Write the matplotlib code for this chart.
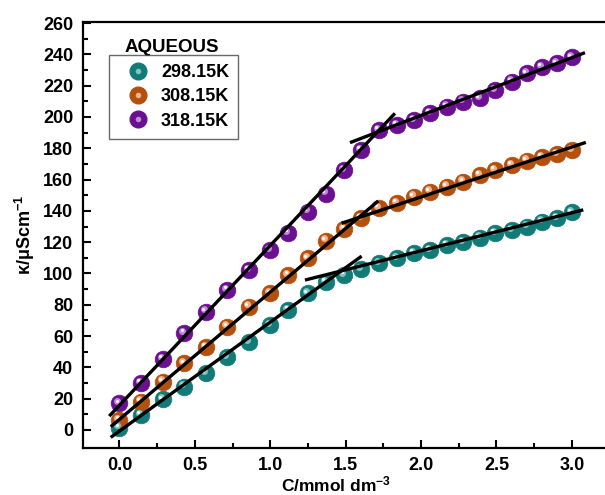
import numpy as np
import matplotlib
matplotlib.use("Agg")
import matplotlib.pyplot as plt
from matplotlib.lines import Line2D
from matplotlib.legend_handler import HandlerTuple
import matplotlib.transforms as mtransforms

plt.rcParams['font.family'] = ['Liberation Sans', 'DejaVu Sans']
plt.rcParams['mathtext.fontset'] = 'custom'
plt.rcParams['mathtext.rm'] = 'Liberation Sans:bold'
plt.rcParams['mathtext.bf'] = 'Liberation Sans:bold'
plt.rcParams['mathtext.it'] = 'Liberation Sans:bold'

# ---- data ----
conc = [0.0, 0.143, 0.286, 0.429, 0.571, 0.714, 0.857, 1.0, 1.12, 1.25, 1.37, 1.49,
        1.60, 1.72, 1.84, 1.95, 2.06, 2.17, 2.28, 2.39, 2.49, 2.60, 2.70, 2.80, 2.90, 3.0]
k_298 = [1.5, 9.6, 19.6, 27.7, 36.2, 46.8, 56.4, 67.1, 76.7, 87.3, 94.4, 99.0,
         102.9, 106.5, 109.7, 112.9, 115.0, 118.2, 120.3, 122.9, 125.7, 127.8, 129.9, 133.1, 135.6, 139.0]
k_308 = [6.4, 18.1, 30.9, 42.6, 53.2, 66.0, 78.8, 87.3, 99.0, 109.7, 121.0, 128.5,
         135.3, 141.7, 144.9, 149.1, 152.3, 155.5, 158.7, 162.9, 166.1, 169.3, 172.1, 174.6, 176.4, 178.9]
k_318 = [17.0, 30.2, 45.2, 61.8, 75.6, 89.5, 102.2, 115.0, 125.7, 139.5, 151.0, 166.0,
         179.0, 191.7, 194.9, 198.1, 202.4, 206.6, 209.8, 211.9, 217.3, 222.6, 227.9, 232.1, 234.3, 238.1]
labels = ['298.15K', '308.15K', '318.15K']

# linear fits: (slope, intercept, x_start, x_end) pre- and post-CMC
fit_pre = [(69.6, -0.7, -0.058, 1.606), (81.3, 6.8, -0.058, 1.716), (102.1, 15.8, -0.068, 1.827)]
fit_post = [(24.3, 65.9, 1.23, 3.076), (31.9, 85.1, 1.473, 3.093), (36.9, 127.2, 1.529, 3.087)]

colors = ['#127b77', '#b4500e', '#6a1090']
highlights = ['#7fc4c0', '#f0b08a', '#c08ad8']

fig = plt.figure(figsize=(6.05, 4.95), dpi=100)
ax = fig.add_axes([83/605, (495-447.5)/495, (605-83)/605, (447.5-22)/495])

hl_tr = mtransforms.offset_copy(ax.transData, fig=fig, x=-2.0, y=2.2, units='dots')
hl_tr2 = mtransforms.offset_copy(ax.transData, fig=fig, x=-2.6, y=2.8, units='dots')

series = [k_298, k_308, k_318]
handles = []
for ys, c, hc, lab in zip(series, colors, highlights, labels):
    ax.plot(conc, ys, 'o', ms=12, color=c, mec=c, mew=0.5, zorder=2)
    ax.plot(conc, ys, 'o', ms=5, color=hc, mec='none', zorder=3, transform=hl_tr)
    ax.plot(conc, ys, 'o', ms=2.2, color='white', mec='none', zorder=3, transform=hl_tr2)
    h1 = Line2D([], [], marker='o', ls='none', ms=12, color=c, mec=c)
    h2 = Line2D([], [], marker='o', ls='none', ms=4, color=hc, mec='none')
    handles.append((h1, h2))

for (m, b, x0, x1) in fit_pre + fit_post:
    xs = np.array([x0, x1])
    ax.plot(xs, m*xs + b, '-', color='black', lw=2.4, zorder=4, solid_capstyle='butt')

ax.set_xlim(-0.242, 3.22)
ax.set_ylim(-11.2, 260.7)
ax.set_xticks(np.arange(0, 3.01, 0.5))
ax.set_xticks(np.arange(0.25, 3.1, 0.5), minor=True)
ax.set_yticks(np.arange(0, 261, 20))
ax.set_yticks(np.arange(10, 260, 20), minor=True)
ax.xaxis.set_major_formatter(matplotlib.ticker.FormatStrFormatter('%.1f'))

ax.tick_params(which='major', direction='in', length=6, width=1.5, labelsize=13, pad=7)
ax.tick_params(which='minor', direction='in', length=3.5, width=1.5)
ax.tick_params(top=False, right=False)
for lab in ax.get_xticklabels() + ax.get_yticklabels():
    lab.set_fontweight('bold')
for s in ['left', 'bottom', 'top']:
    ax.spines[s].set_linewidth(1.6)
ax.spines['right'].set_visible(False)

ax.set_xlabel('C/mmol dm$^{-3}$', fontsize=12.5, fontweight='bold')
ax.xaxis.set_label_coords(0.485, -0.064)
ax.set_ylabel('κ/μScm$^{-1}$', fontsize=13, fontweight='bold', labelpad=4)

leg = ax.legend(handles, labels, handler_map={tuple: HandlerTuple(ndivide=1, pad=0)},
                loc='upper left', bbox_to_anchor=(0.05, 0.922), borderaxespad=0,
                frameon=True, fancybox=False, prop={'weight': 'bold', 'size': 13},
                labelspacing=0.4, handletextpad=0.17, borderpad=0.5, handlelength=2.2)
leg.get_frame().set_edgecolor('#444444')
leg.get_frame().set_linewidth(1.0)

ax.text(0.0805, 0.930, 'AQUEOUS', transform=ax.transAxes, fontsize=13.5,
        fontweight='bold', va='baseline', ha='left')

fig.savefig('out.png', dpi=100)
